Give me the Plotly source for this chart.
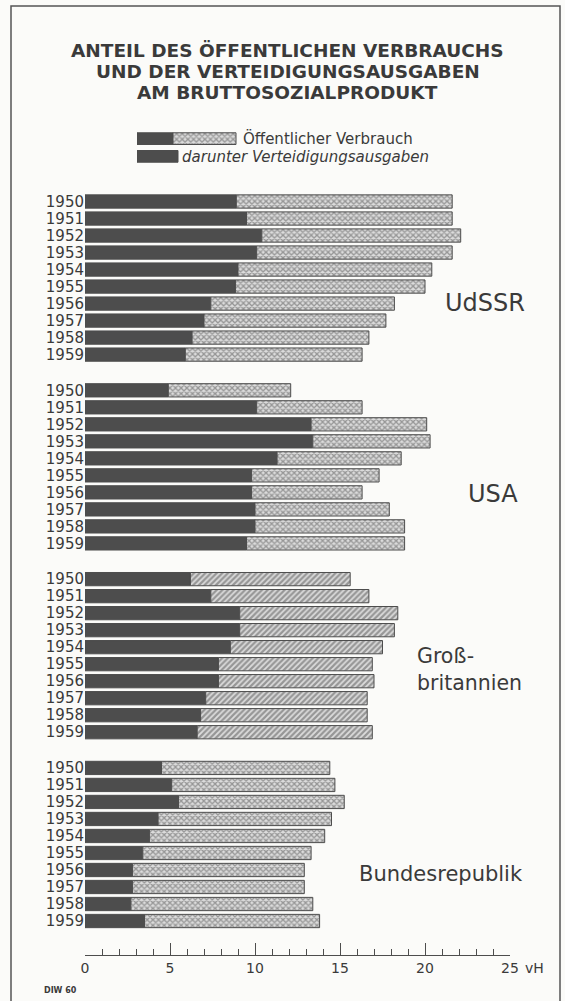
import plotly.graph_objects as go

# ---------------- data (in vH of GNP) ----------------
years = ["1950", "1951", "1952", "1953", "1954", "1955", "1956", "1957", "1958", "1959"]
countries = ["UdSSR", "USA", "Groß-<br>britannien", "Bundesrepublik"]

udssr_total = [21.6, 21.6, 22.1, 21.6, 20.4, 20.0, 18.2, 17.7, 16.7, 16.3]
udssr_def = [8.9, 9.5, 10.4, 10.1, 9.0, 8.85, 7.4, 7.0, 6.3, 5.9]
usa_total = [12.1, 16.3, 20.1, 20.3, 18.6, 17.3, 16.3, 17.9, 18.8, 18.8]
usa_def = [4.9, 10.1, 13.3, 13.4, 11.3, 9.8, 9.8, 10.0, 10.0, 9.5]
gb_total = [15.6, 16.7, 18.4, 18.2, 17.5, 16.9, 17.0, 16.6, 16.6, 16.9]
gb_def = [6.2, 7.4, 9.1, 9.1, 8.55, 7.85, 7.85, 7.1, 6.8, 6.6]
brd_total = [14.4, 14.7, 15.25, 14.5, 14.1, 13.3, 12.9, 12.9, 13.4, 13.8]
brd_def = [4.5, 5.1, 5.5, 4.3, 3.8, 3.4, 2.8, 2.8, 2.7, 3.5]

totals = [udssr_total, usa_total, gb_total, brd_total]
defence = [udssr_def, usa_def, gb_def, brd_def]

x_tickvals = [0, 5, 10, 15, 20, 25]
x_ticktext = ["0", "5", "10", "15", "20", "25"]

# ---------------- layout constants ----------------
W, H = 565, 1001
PLOT_LEFT, PLOT_RIGHT, PLOT_TOP, PLOT_BOTTOM = 85, 510, 10, 955   # page pixels
L, R = PLOT_LEFT, W - PLOT_RIGHT
T, B = PLOT_TOP, H - PLOT_BOTTOM
DARK = "#4d4d4d"
LIGHT = "#dcdcdc"
HATCH = "#4f4f4f"
TEXT = "#3a3a3a"
BG = "#fbfbf9"
FONT = "DejaVu Sans"
GROUP_STEP = 11.1
patterns = ["x", "x", "/", "x"]


def px_x(p):
    return (p - PLOT_LEFT) / (PLOT_RIGHT - PLOT_LEFT)


def px_y(p):
    return (PLOT_BOTTOM - p) / (PLOT_BOTTOM - PLOT_TOP)


fig = go.Figure()

tickpos, ticklab = [], []
for g, (tot, dfn) in enumerate(zip(totals, defence)):
    pos = [g * GROUP_STEP + i for i in range(len(years))]
    tickpos += pos
    ticklab += years
    fig.add_trace(go.Bar(
        y=pos, x=dfn, base=[0] * len(dfn), orientation="h", width=0.78,
        marker=dict(color=DARK, line=dict(color=DARK, width=1)),
        showlegend=False, hoverinfo="skip"))
    fig.add_trace(go.Bar(
        y=pos, x=[t - d for t, d in zip(tot, dfn)], base=dfn, orientation="h", width=0.78,
        marker=dict(color=LIGHT,
                    pattern=dict(shape=patterns[g], fgcolor=HATCH, bgcolor=LIGHT,
                                 size=4, solidity=0.55),
                    line=dict(color=DARK, width=1)),
        showlegend=False, hoverinfo="skip"))

# legend key swatches (separate small axis)
fig.add_trace(go.Bar(y=[0, 1], x=[36, 41], base=[0, 0], orientation="h", width=0.66,
                     marker=dict(color=DARK, line=dict(color=DARK, width=1)),
                     xaxis="x2", yaxis="y2", showlegend=False, hoverinfo="skip"))
fig.add_trace(go.Bar(y=[0], x=[63], base=[36], orientation="h", width=0.66,
                     marker=dict(color=LIGHT,
                                 pattern=dict(shape="x", fgcolor=HATCH, bgcolor=LIGHT,
                                              size=4, solidity=0.55),
                                 line=dict(color=DARK, width=1)),
                     xaxis="x2", yaxis="y2", showlegend=False, hoverinfo="skip"))

y_top_px = 190
unit = 17.01
y_lo = -(201.5 - y_top_px) / unit
y_hi = y_lo + (PLOT_BOTTOM - y_top_px) / unit

annotations = []
for k, line in enumerate(["ANTEIL DES ÖFFENTLICHEN VERBRAUCHS",
                          "UND DER VERTEIDIGUNGSAUSGABEN",
                          "AM BRUTTOSOZIALPRODUKT"]):
    annotations.append(dict(text="<b>" + line + "</b>", x=px_x(287.5), y=px_y([50, 72, 93][k]),
                            xref="paper", yref="paper", xanchor="center", yanchor="middle",
                            showarrow=False, font=dict(family=FONT, size=18.5, color=TEXT)))

annotations.append(dict(text="Öffentlicher Verbrauch", x=px_x(241), y=px_y(138),
                        xref="paper", yref="paper", xanchor="left", yanchor="middle",
                        showarrow=False, font=dict(family=FONT, size=15, color=TEXT)))
annotations.append(dict(text="<i>darunter Verteidigungsausgaben</i>", x=px_x(180), y=px_y(157),
                        xref="paper", yref="paper", xanchor="left", yanchor="middle",
                        showarrow=False, font=dict(family=FONT, size=15, color=TEXT)))

country_pos = [(443, 303, 24), (466, 494, 24), (415, 669, 20.5), (357, 874, 21)]
for name, (cx, cy, fs) in zip(countries, country_pos):
    annotations.append(dict(text=name, x=px_x(cx), y=px_y(cy), xref="paper", yref="paper",
                            xanchor="left", yanchor="middle", align="left", showarrow=False,
                            font=dict(family=FONT, size=fs, color=TEXT)))

annotations.append(dict(text="vH", x=px_x(523), y=px_y(968), xref="paper", yref="paper",
                        xanchor="left", yanchor="middle", showarrow=False,
                        font=dict(family=FONT, size=14, color=TEXT)))
annotations.append(dict(text="<b>DIW 60</b>", x=px_x(42), y=px_y(990), xref="paper", yref="paper",
                        xanchor="left", yanchor="middle", showarrow=False,
                        font=dict(family=FONT, size=8, color=TEXT)))

fig.update_layout(
    width=W, height=H,
    margin=dict(l=L, r=R, t=T, b=B, pad=0),
    paper_bgcolor=BG, plot_bgcolor=BG,
    barmode="overlay",
    showlegend=False,
    xaxis=dict(range=[0, 25], domain=[0, 1], anchor="y",
               showgrid=False, zeroline=False,
               showline=True, linecolor=DARK, linewidth=1.3,
               ticks="inside", ticklen=12, tickwidth=1.3, tickcolor=DARK,
               tickvals=x_tickvals, ticktext=x_ticktext,
               minor=dict(ticks="inside", ticklen=6, tickwidth=1, tickcolor=DARK, dtick=1, tick0=0),
               tickfont=dict(family=FONT, size=14, color=TEXT), automargin=False),
    yaxis=dict(range=[y_hi, y_lo], domain=[0, px_y(y_top_px)], anchor="x",
               showgrid=False, zeroline=False, showline=False, ticks="",
               tickvals=tickpos, ticktext=ticklab, automargin=False,
               tickfont=dict(family=FONT, size=15, color=TEXT)),
    xaxis2=dict(range=[0, 100], domain=[px_x(137), px_x(237)], anchor="y2",
                visible=False, fixedrange=True),
    yaxis2=dict(range=[1.6, -0.6], domain=[px_y(167), px_y(128)], anchor="x2",
                visible=False, fixedrange=True),
    annotations=annotations,
    shapes=[dict(type="rect", xref="paper", yref="paper",
                 x0=px_x(11), x1=px_x(560), y0=px_y(1010), y1=px_y(6),
                 line=dict(color="#555555", width=1.5), fillcolor="rgba(0,0,0,0)", layer="below")],
)

fig.write_html("out.html", config={"displayModeBar": False},
               post_script="document.body.style.margin='0px';document.body.style.background='%s';" % BG)
